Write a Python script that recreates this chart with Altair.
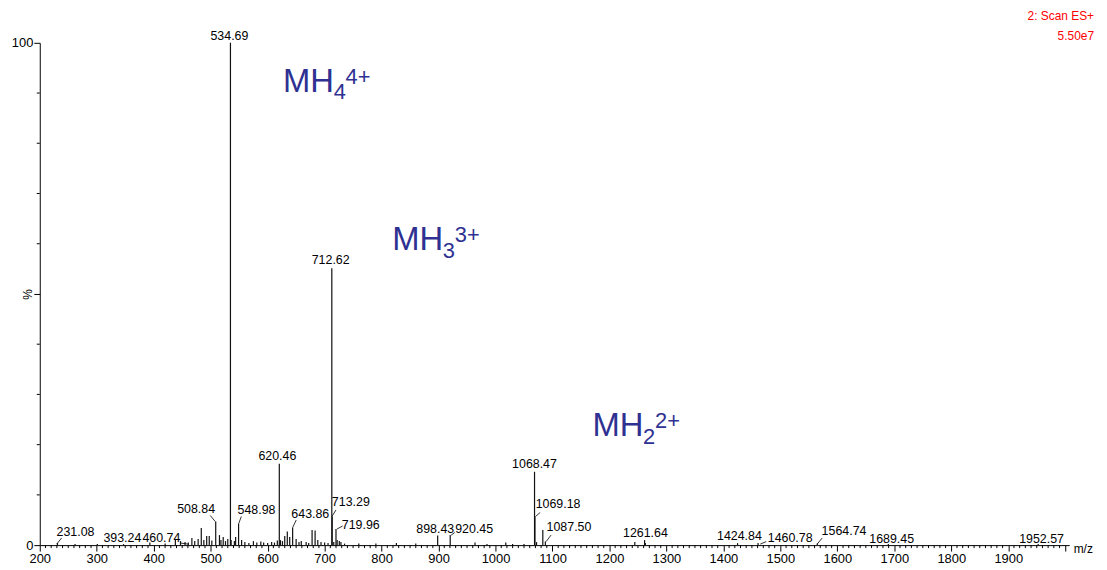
import altair as alt
import pandas as pd

# ---------------- data ----------------
peak_mz = [231.08, 262, 301, 347, 393.24, 420, 438, 447, 455, 460.74, 467, 472, 478,
           483.5, 488, 493, 497.5, 502, 508.84, 515.4, 518, 522, 526, 530, 534.69,
           535.9, 541.6, 543.8, 548.98, 554.3, 560, 567, 575, 581, 588, 593, 600, 607,
           612, 617, 620.46, 622.5, 626, 630, 634.5, 638.7, 643.86, 650, 655, 659,
           667.6, 672, 678, 683.3, 688, 693.7, 700, 706, 712.62, 713.29, 716, 719.96,
           722, 725.8, 728.6, 735, 760, 790, 826, 860, 898.43, 920.45, 964, 985, 1018,
           1030, 1050, 1068.47, 1069.18, 1072, 1083, 1087.50, 1244.5, 1261.64, 1263,
           1424.84, 1460.78, 1564.74, 1689.45, 1952.57]
peak_pct = [0.4, 0.2, 0.2, 0.2, 0.5, 0.3, 1.0, 0.8, 0.6, 0.5, 1.4, 0.8, 1.2,
            3.4, 1.0, 1.8, 1.8, 0.9, 4.7, 2.0, 1.0, 1.6, 0.8, 1.2, 100,
            1.0, 0.8, 1.6, 4.2, 1.0, 0.6, 0.4, 0.8, 0.5, 0.7, 0.5, 0.4, 0.6,
            0.5, 0.9, 16.2, 1.0, 0.8, 1.8, 2.7, 1.6, 3.5, 1.2, 0.6, 0.8,
            0.6, 0.4, 3.0, 2.9, 1.0, 0.6, 0.5, 0.4, 55.1, 5.7, 0.6, 3.2,
            1.0, 0.8, 0.6, 0.3, 0.3, 0.3, 0.4, 0.3, 1.9, 2.0, 0.5, 0.2, 0.5,
            0.2, 0.2, 14.6, 5.7, 0.6, 3.0, 0.7, 0.6, 1.0, 0.4,
            0.4, 0.4, 0.3, 0.2, 0.2]

# peak labels: text, label centre (m/z), label baseline (%)
label_text = ["231.08", "393.24", "460.74", "508.84", "534.69", "548.98", "620.46",
              "643.86", "712.62", "713.29", "719.96", "898.43", "920.45", "1068.47",
              "1069.18", "1087.50", "1261.64", "1424.84", "1460.78", "1564.74",
              "1689.45", "1952.57"]
label_mz = [262.7, 345.0, 413.5, 474.5, 532.9, 580.5, 617.1, 674.9, 710.6, 746.0,
            763.5, 894.2, 962.5, 1068.4, 1109.7, 1128.9, 1263.1, 1428.1, 1517.2,
            1611.7, 1695.3, 1958.5]
label_pct = [1.8, 0.7, 0.6, 6.4, 100.6, 6.1, 17.0, 5.3, 55.9, 7.8, 3.3, 2.4, 2.4,
             15.4, 7.3, 2.8, 1.7, 1.1, 0.7, 2.1, 0.5, 0.5]

# leader lines from peak to displaced label
lead_mz1 = [229.6, 447.5, 499.2, 548.9, 643.9, 712.9, 721.6, 922.1, 1070.2, 1088.8, 1464.7, 1564.6]
lead_pct1 = [0.2, 0.4, 5.9, 4.2, 3.5, 5.7, 3.2, 2.0, 5.7, 0.7, 0.2, 0.2]
lead_mz2 = [238.3, 460.7, 508.0, 553.8, 650.2, 719.9, 731.6, 928.5, 1078.4, 1097.5, 1475.2, 1573.3]
lead_pct2 = [1.4, 0.2, 4.7, 5.7, 5.0, 7.0, 3.8, 2.5, 6.5, 2.0, 0.7, 1.4]

# charge-state annotations
ion_base = ["MH", "MH", "MH"]
ion_sub = ["4", "3", "2"]
ion_sup = ["4+", "3+", "2+"]
ion_mz = [627.0, 818.7, 1170.2]
ion_pct = [90.3, 58.7, 21.8]

header_lines = ["2: Scan ES+", "5.50e7"]

x_minor = [v for v in range(200, 2010, 10) if v % 100 != 0]
y_minor = [v for v in range(10, 100, 10) if v != 50]

# ---------------- chart ----------------
W, H = 1037, 506
FONT = "Liberation Sans"
BLUE = "#2e3192"

xscale = alt.Scale(domain=[200, 2007], nice=False, zero=False)
yscale = alt.Scale(domain=[0, 100], nice=False, zero=False)

peaks_df = pd.DataFrame({"mz": peak_mz, "pct": peak_pct})
labels_df = pd.DataFrame({"text": label_text, "mz": label_mz, "pct": label_pct})
lead_df = pd.DataFrame({"mz": lead_mz1, "pct": lead_pct1, "mz2": lead_mz2, "pct2": lead_pct2})
ion_df = pd.DataFrame({"base": ion_base, "sub": ion_sub, "sup": ion_sup,
                       "mz": ion_mz, "pct": ion_pct})
xminor_df = pd.DataFrame({"mz": x_minor})
yminor_df = pd.DataFrame({"pct": y_minor})

x_axis = alt.Axis(
    tickCount=20,
    labelExpr="datum.value <= 1900 ? format(datum.value, 'd') : ''",
    tickSize=6, tickColor="black", domainColor="black", labelColor="black",
    labelFont=FONT, labelFontSize=13, labelPadding=2,
    labelOverlap=False, labelFlush=False, grid=False,
    title="m/z", titleFont=FONT, titleFontSize=12, titleFontWeight="normal",
    titleColor="black", titleX=W + 4, titleY=3, titleAlign="left",
    titleBaseline="middle",
)
y_axis = alt.Axis(
    tickCount=2,
    labelExpr="datum.value !== 50 ? format(datum.value, 'd') : ''",
    tickSize=6, tickColor="black", domainColor="black", labelColor="black",
    labelFont=FONT, labelFontSize=13, labelPadding=1,
    labelOverlap=False, labelFlush=False, grid=False,
    title="%", titleFont=FONT, titleFontSize=12, titleFontWeight="normal",
    titleColor="black", titleX=-12, titleY=H / 2, titleAlign="center",
    titleBaseline="middle",
)


def X():
    return alt.X("mz:Q", scale=xscale, axis=x_axis, title="m/z")


def Y():
    return alt.Y("pct:Q", scale=yscale, axis=y_axis, title="%")


labels = alt.Chart(labels_df).mark_text(
    font=FONT, fontSize=12.5, color="black", align="center", baseline="alphabetic"
).encode(x=X(), y=Y(), text="text:N")

peaks = alt.Chart(peaks_df).mark_rule(color="#111111", strokeWidth=1.2).encode(
    x=X(), y=Y(), y2=alt.datum(0),
)

xminor = alt.Chart(xminor_df).mark_rule(color="black", strokeWidth=1).encode(
    x=X(), y=alt.value(H), y2=alt.value(H + 3),
)
yminor = alt.Chart(yminor_df).mark_rule(color="black", strokeWidth=1).encode(
    y=Y(), x=alt.value(0), x2=alt.value(-3),
)

leaders = alt.Chart(lead_df).mark_rule(color="black", strokeWidth=0.8).encode(
    x=X(), x2="mz2:Q", y=Y(), y2="pct2:Q",
)

ion_base_txt = alt.Chart(ion_df).mark_text(
    font=FONT, fontSize=33, color=BLUE, align="left", baseline="alphabetic"
).encode(x=X(), y=Y(), text="base:N")
ion_sub_txt = alt.Chart(ion_df).mark_text(
    font=FONT, fontSize=22, color=BLUE, align="left", baseline="alphabetic", dx=51, dy=8
).encode(x=X(), y=Y(), text="sub:N")
ion_sup_txt = alt.Chart(ion_df).mark_text(
    font=FONT, fontSize=22, color=BLUE, align="left", baseline="alphabetic", dx=63, dy=-8
).encode(x=X(), y=Y(), text="sup:N")

one = pd.DataFrame({"k": [0]})
head1 = alt.Chart(one).mark_text(
    font=FONT, fontSize=12, color="#ff0000", align="right", baseline="middle",
    text=header_lines[0]
).encode(x=alt.value(W + 25), y=alt.value(-27))
head2 = alt.Chart(one).mark_text(
    font=FONT, fontSize=12, color="#ff0000", align="right", baseline="middle",
    text=header_lines[1]
).encode(x=alt.value(W + 25), y=alt.value(-7))

chart = alt.layer(
    labels, peaks, xminor, yminor, leaders, ion_base_txt, ion_sub_txt, ion_sup_txt,
    head1, head2
).properties(
    width=W, height=H,
    autosize=alt.AutoSizeParams(type="none"),
    padding={"left": 32, "top": 33, "right": 30, "bottom": 22},
    background="white",
).configure_view(stroke=None)

chart.save("out.html", embed_options={"renderer": "svg", "actions": False})
